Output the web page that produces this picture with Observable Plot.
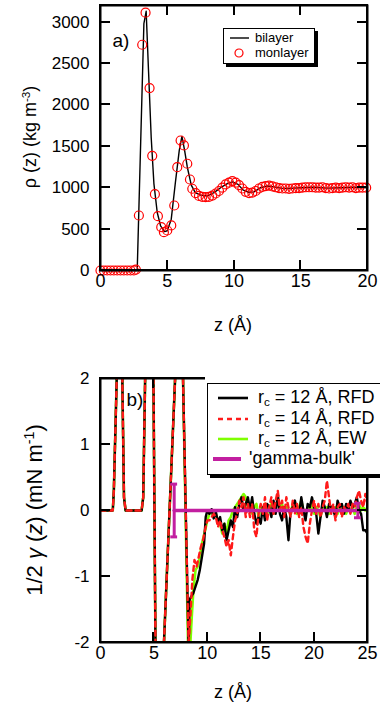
<!DOCTYPE html>
<html><head><meta charset="utf-8">
<script src="https://cdn.jsdelivr.net/npm/d3@7"></script>
<script src="https://cdn.jsdelivr.net/npm/@observablehq/plot@0.6"></script>
<style>
body{margin:0;background:#fff;font-family:"Liberation Sans",Arial,Helvetica,sans-serif;}
#root{position:relative;width:380px;height:706px;background:#fff;overflow:hidden;}
.panel{position:absolute;left:0;}
.title{position:absolute;white-space:nowrap;line-height:1;}
.legend{position:absolute;background:#fff;border:1.5px solid #000;box-shadow:3px 3px 0 #000;}
.cover{position:absolute;background:#fff;}
.fr{position:absolute;box-sizing:border-box;border:2px solid #000;pointer-events:none;}
.tk{position:absolute;background:#000;}
.row{position:absolute;white-space:nowrap;line-height:1;}
.row svg{position:absolute;overflow:visible;}
sup{font-size:0.65em;vertical-align:0.55em;line-height:0;}
sub{font-size:0.65em;vertical-align:-0.25em;line-height:0;}
</style></head>
<body><div id="root"></div>
<script>
// ---------- Panel a data ----------
const bilayerZ   = [0, 2.75, 3.25, 3.42, 3.6, 3.8, 4.0, 4.25, 4.5, 4.8, 5.0, 5.3, 5.6, 5.9, 6.1, 6.3, 6.5, 6.8, 7.1, 7.5, 8.0, 8.5, 9.0, 9.5, 9.9, 10.3, 10.7, 11.1, 11.5, 12.0, 12.5, 13.0, 13.5, 14.0, 14.5, 15.0, 16.0, 17.0, 18.0, 19.0, 20.0];
const bilayerRho = [0, 0, 2980, 3130, 2400, 1600, 1050, 700, 540, 470, 480, 620, 1050, 1450, 1620, 1450, 1250, 1030, 940, 910, 900, 940, 1000, 1050, 1070, 1040, 970, 945, 950, 1000, 1020, 1010, 995, 990, 995, 1000, 1005, 995, 1000, 1005, 1000];

const monoZ   = [0, 0.25, 0.5, 0.75, 1.0, 1.25, 1.5, 1.75, 2.0, 2.25, 2.5, 2.65, 2.875, 3.125, 3.375, 3.675, 3.875, 4.075, 4.3, 4.55, 4.75, 5.0, 5.3, 5.525, 5.75, 6.0, 6.25, 6.5, 6.7, 6.875, 7.125, 7.375, 7.625, 7.875, 8.125, 8.375, 8.625, 8.875, 9.125, 9.375, 9.625, 9.875, 10.125, 10.375, 10.625, 10.875, 11.125, 11.375, 11.625, 11.875, 12.125, 12.375, 12.625, 12.875, 13.125, 13.375, 13.625, 13.875, 14.125, 14.375, 14.625, 14.875, 15.125, 15.375, 15.625, 15.875, 16.125, 16.375, 16.625, 16.875, 17.125, 17.375, 17.625, 17.875, 18.125, 18.375, 18.625, 18.875, 19.125, 19.375, 19.625, 19.9];
const monoRho = [0, 0, 0, 0, 0, 0, 0, 0, 0, 0, 0, 10, 664, 2726, 3113, 2203, 1385, 922, 656, 523, 463, 483, 544, 785, 1248, 1570, 1510, 1289, 1099, 987, 934, 900, 890, 885, 890, 905, 930, 960, 1000, 1040, 1060, 1080, 1060, 1030, 990, 950, 935, 940, 960, 990, 1010, 1020, 1025, 1015, 1005, 995, 990, 990, 985, 990, 995, 995, 1000, 1005, 1005, 1005, 1000, 1000, 1005, 995, 990, 995, 1000, 995, 1000, 1005, 1000, 1005, 995, 1000, 1000, 1000];

const rhoTicks = [0, 500, 1000, 1500, 2000, 2500, 3000];
const zTicksA  = [0, 5, 10, 15, 20];

// ---------- Panel b data ----------
// shared near-wall part (all three profiles coincide)
const wallZ = [0, 1.15, 1.25, 1.55, 1.75, 1.9, 2.05, 2.2, 2.35, 3.85, 4.0, 4.2, 4.45, 4.7, 4.95, 5.15, 5.4, 5.7, 5.93, 7.0, 7.3, 7.5, 7.72];
const wallG = [0, 0, 0.3, 2.2, 8, 8, 1.9, 0.2, 0, 0, 0.2, 2.2, 10, 10, 2.2, -2.1, -10, -10, -2.05, 2.05, 10, 10, 2.05];

const rfd12Z = [8.25, 8.35, 8.5, 8.7, 8.9, 9.1, 9.3, 9.5, 9.7, 9.85, 10.0, 10.2, 10.4, 10.6, 10.8, 11.0, 11.2, 11.4, 11.6, 11.8, 12.0, 12.2, 12.4, 12.6, 12.8, 13.0, 13.2, 13.4, 13.6, 13.8, 14.0, 14.2, 14.4, 14.6, 14.8, 15.0, 15.2, 15.4, 15.6, 15.8, 16.0, 16.2, 16.4, 16.6, 16.8, 17.0, 17.2, 17.4, 17.6, 17.8, 18.0, 18.2, 18.4, 18.6, 18.8, 19.0, 19.2, 19.4, 19.6, 19.8, 20.0, 20.2, 20.4, 20.6, 20.8, 21.0, 21.2, 21.4, 21.6, 21.8, 22.0, 22.2, 22.4, 22.6, 22.8, 23.0, 23.2, 23.4, 23.6, 23.8, 24.0, 24.2, 24.4, 24.6, 24.8, 25.0];
const rfd12G = [-2.1, -1.35, -1.3, -1.25, -1.15, -1.05, -0.9, -0.7, -0.5, -0.1, 0.0, -0.05, 0.02, -0.12, -0.02, -0.18, -0.1, -0.3, -0.2, -0.45, -0.3, -0.15, -0.25, 0.05, -0.1, 0.1, 0.2, 0.0, 0.1, 0.2, 0.0, 0.2, -0.05, -0.2, -0.1, -0.2, 0.05, -0.15, 0.1, 0.05, -0.1, 0.15, -0.05, 0.25, -0.05, -0.15, 0.05, -0.1, -0.45, 0.0, 0.05, 0.15, 0.0, -0.05, 0.2, 0.0, -0.15, 0.1, 0.05, 0.2, 0.05, -0.05, -0.35, -0.1, 0.15, 0.05, -0.1, 0.1, 0.05, 0.0, -0.1, 0.15, 0.05, 0.1, -0.05, 0.1, 0.0, 0.15, 0.05, 0.1, 0.2, 0.0, -0.05, -0.3, -0.3, -0.35];

const rfd14Z = [8.25, 8.3, 8.45, 8.6, 8.8, 9.0, 9.2, 9.4, 9.6, 9.8, 10.0, 10.2, 10.4, 10.6, 10.8, 11.0, 11.2, 11.4, 11.6, 11.8, 12.0, 12.2, 12.4, 12.6, 12.8, 13.0, 13.2, 13.4, 13.6, 13.8, 14.0, 14.2, 14.4, 14.6, 14.8, 15.0, 15.2, 15.4, 15.6, 15.8, 16.0, 16.2, 16.4, 16.6, 16.8, 17.0, 17.2, 17.4, 17.6, 17.8, 18.0, 18.2, 18.4, 18.6, 18.8, 19.0, 19.2, 19.4, 19.6, 19.8, 20.0, 20.2, 20.4, 20.6, 20.8, 21.0, 21.2, 21.4, 21.6, 21.8, 22.0, 22.2, 22.4, 22.6, 22.8, 23.0, 23.2, 23.4, 23.6, 23.8, 24.0, 24.2, 24.4, 24.6, 24.8, 25.0];
const rfd14G = [-2.05, -1.9, -1.5, -1.05, -0.75, -0.85, -0.7, -0.55, -0.45, -0.28, -0.15, -0.15, -0.1, -0.05, -0.1, -0.25, -0.15, -0.3, -0.4, -0.55, -0.45, -0.68, -0.4, -0.15, -0.05, 0.15, 0.05, 0.2, -0.1, 0.1, -0.1, 0.1, -0.3, -0.4, -0.05, 0.1, -0.05, 0.2, -0.15, 0.05, 0.2, -0.05, 0.15, 0.3, 0.0, 0.15, -0.1, 0.2, 0.05, -0.1, 0.15, -0.05, 0.1, -0.1, 0.05, -0.25, -0.4, -0.5, -0.2, 0.0, 0.15, -0.05, 0.1, -0.1, 0.05, 0.15, 0.45, 0.2, -0.05, 0.1, -0.15, 0.05, 0.1, -0.1, 0.05, 0.0, 0.1, -0.05, 0.1, 0.05, 0.2, 0.3, 0.15, 0.05, 0.25, 0.1];

const ew12Z = [8.2, 8.4, 8.55, 8.7, 8.9, 9.1, 9.3, 9.5, 9.8, 10.0, 10.2, 10.4, 10.6, 10.8, 11.0, 11.2, 11.4, 11.6, 11.8, 12.0, 12.2, 12.4, 12.6, 12.8, 13.0, 13.2, 13.4, 13.6, 13.8, 14.0, 14.2, 14.4, 14.6, 14.8, 15.0, 15.2, 15.4, 15.6, 15.8, 16.0, 16.2, 16.4, 16.6, 16.8, 17.0, 17.2, 17.4, 17.6, 17.8, 18.0, 18.2, 18.4, 18.6, 18.8, 19.0, 19.2, 19.4, 19.6, 19.8, 20.0, 20.2, 20.4, 20.6, 20.8, 21.0, 21.2, 21.4, 21.6, 21.8, 22.0, 22.2, 22.4, 22.6, 22.8, 23.0, 23.2, 23.4, 23.6, 23.8, 24.0, 24.2, 24.4, 24.6, 24.8, 25.0];
const ew12G = [-2.05, -2.05, -1.6, -1.2, -0.9, -0.85, -0.7, -0.5, -0.3, -0.15, -0.05, 0.0, -0.1, -0.05, -0.15, -0.2, -0.35, -0.2, -0.35, -0.15, -0.1, 0.0, 0.05, 0.1, 0.15, 0.2, 0.25, 0.2, 0.05, 0.1, -0.05, 0.05, 0.1, -0.1, 0.05, 0.0, 0.1, -0.05, 0.05, 0.1, -0.05, 0.05, 0.15, 0.0, 0.1, -0.05, 0.05, 0.0, -0.05, 0.1, 0.05, -0.05, 0.05, 0.15, 0.0, -0.05, 0.05, 0.0, 0.1, -0.05, 0.05, 0.0, -0.1, 0.05, 0.0, 0.05, -0.05, 0.05, 0.0, 0.05, -0.05, 0.05, 0.0, 0.05, -0.05, 0.05, 0.0, 0.05, -0.05, 0.05, 0.1, 0.0, 0.05, 0.0, 0.05];

const bulkZ   = [6.9, 24.1];
const bulkG   = [0, 0];
const bulkErr = [0.4, 0.11];

const gTicks  = [-2, -1, 0, 1, 2];
const zTicksB = [0, 5, 10, 15, 20, 25];

// ---------- build ----------
const FONT = '"Liberation Sans", Arial, Helvetica, sans-serif';
const root = document.getElementById("root");
const rows = (zs, vs) => zs.map((z, i) => ({z, v: vs[i]}));
const fmt = d => String(d);
const TICK = 10;

function addBox(cls, left, top, w, h) {
  const d = document.createElement("div");
  d.className = cls;
  Object.assign(d.style, {left: left + "px", top: top + "px", width: w + "px", height: h + "px"});
  root.appendChild(d);
}

function panel(top, geom, xDomain, yDomain, xTicks, yTicks, marks) {
  const p = Plot.plot({
    width: 380, height: 353,
    marginLeft: 100, marginRight: 13, marginTop: geom.mt, marginBottom: geom.mb,
    style: {fontFamily: FONT, fontSize: "17px", background: "transparent"},
    x: {domain: xDomain, axis: null},
    y: {domain: yDomain, axis: null},
    marks: [
      ...marks,
      Plot.axisX({ticks: xTicks, tickSize: 0, tickPadding: 4, label: null, tickFormat: fmt, fontSize: 18}),
      Plot.axisY({ticks: yTicks, tickSize: 0, tickPadding: 11, label: null, tickFormat: fmt, fontSize: 17}),
      Plot.frame({stroke: "#000", strokeWidth: 2})
    ]
  });
  p.classList.add("panel");
  p.style.top = top + "px";
  root.appendChild(p);
  // frame box and inward ticks, placed from the plot's own scales
  const sx = p.scale("x"), sy = p.scale("y");
  const X = v => sx.apply(v), Y = v => top + sy.apply(v);
  const x0 = X(xDomain[0]), x1 = X(xDomain[1]), yb = Y(yDomain[0]), yt = Y(yDomain[1]);
  addBox("fr", x0 - 1, yt - 1, x1 - x0 + 2, yb - yt + 2);
  yTicks.forEach(v => {
    addBox("tk", x0, Y(v) - 1, TICK, 2);
    addBox("tk", x1 - TICK, Y(v) - 1, TICK, 2);
  });
  xTicks.forEach(v => {
    addBox("tk", X(v) - 1, yb - TICK, 2, TICK);
    addBox("tk", X(v) - 1, yt, 2, TICK);
  });
  return {X, Y};
}

// panel a
panel(0, {mt: 5, mb: 83}, [0, 20], [0, 3200], zTicksA, rhoTicks, [
  Plot.line(rows(bilayerZ, bilayerRho), {x: "z", y: "v", stroke: "#000", strokeWidth: 1.4}),
  Plot.dot(rows(monoZ, monoRho), {x: "z", y: "v", r: 4.5, stroke: "#ff0000", strokeWidth: 1.2, fill: "none"}),
  Plot.text(["a)"], {frameAnchor: "top-left", dx: 12, dy: 28, fontSize: 19, textAnchor: "start"})
]);

// panel b
const wall = rows(wallZ, wallG);
const rfd12 = wall.concat(rows(rfd12Z, rfd12G));
const rfd14 = wall.concat(rows(rfd14Z, rfd14G));
const ew12 = wall.concat(rows(ew12Z, ew12G));
const bulk = bulkZ.map((z, i) => ({z, v: bulkG[i], e: bulkErr[i]}));
const C_BLACK = "#000", C_RED = "#ff1a1a", C_GREEN = "#7fff00", C_MAG = "#c21fa0";

panel(353, {mt: 25, mb: 64}, [0, 25], [-2, 2], zTicksB, gTicks, [
  Plot.line(ew12, {x: "z", y: "v", stroke: C_GREEN, strokeWidth: 2.6, clip: true}),
  Plot.line(rfd12, {x: "z", y: "v", stroke: C_BLACK, strokeWidth: 2.4, clip: true}),
  Plot.line(rfd14, {x: "z", y: "v", stroke: C_RED, strokeWidth: 2.4, strokeDasharray: "5,4", clip: true}),
  Plot.line(bulk, {x: "z", y: "v", stroke: C_MAG, strokeWidth: 3.5}),
  Plot.ruleX(bulk, {x: "z", y1: d => d.v - d.e, y2: d => d.v + d.e, stroke: C_MAG, strokeWidth: 3}),
  Plot.ruleY(bulk, {y: d => d.v - d.e, x1: d => d.z - 0.32, x2: d => d.z + 0.32, stroke: C_MAG, strokeWidth: 3}),
  Plot.ruleY(bulk, {y: d => d.v + d.e, x1: d => d.z - 0.32, x2: d => d.z + 0.32, stroke: C_MAG, strokeWidth: 3}),
  Plot.text(["b)"], {frameAnchor: "top-left", dx: 26, dy: 14, fontSize: 19, textAnchor: "start"})
]);

// ---------- titles ----------
function addTitle(html, cx, cy, size, rotate) {
  const d = document.createElement("div");
  d.className = "title";
  d.innerHTML = html;
  d.style.left = cx + "px";
  d.style.top = cy + "px";
  d.style.fontSize = size + "px";
  d.style.transform = "translate(-50%,-50%)" + (rotate ? " rotate(-90deg)" : "");
  root.appendChild(d);
}
addTitle("ρ (z) (kg m<sup>-3</sup>)", 30, 137, 18, true);
addTitle("z (Å)", 233, 325, 18, false);
addTitle('1/2 <i>γ</i> (<i>z</i>) (mN m<sup>-1</sup>)', 35, 510, 22, true);
addTitle("z (Å)", 233, 692, 18, false);

// ---------- legends ----------
function legend(box, items, fontSize) {
  const L = document.createElement("div");
  L.className = "legend";
  Object.assign(L.style, {left: box.x + "px", top: box.y + "px", width: box.w + "px", height: box.h + "px"});
  items.forEach(it => {
    const r = document.createElement("div");
    r.className = "row";
    r.style.left = "0px";
    r.style.top = it.y + "px";
    r.style.fontSize = fontSize + "px";
    const s = document.createElementNS("http://www.w3.org/2000/svg", "svg");
    s.setAttribute("width", 1); s.setAttribute("height", 1);
    s.style.left = "0px"; s.style.top = "0px";
    s.innerHTML = it.swatch;
    r.appendChild(s);
    const t = document.createElement("span");
    t.innerHTML = it.label;
    t.style.position = "absolute";
    t.style.left = it.tx + "px";
    t.style.top = (-fontSize * 0.55) + "px";
    r.appendChild(t);
    L.appendChild(r);
  });
  root.appendChild(L);
}
legend({x: 223, y: 28, w: 90, h: 34}, [
  {y: 9, tx: 31, label: "bilayer", swatch: `<line x1="6" x2="25" y1="0" y2="0" stroke="#000" stroke-width="1.4"/>`},
  {y: 24, tx: 31, label: "monlayer", swatch: `<circle cx="15" cy="0" r="4" fill="none" stroke="#ff0000" stroke-width="1.2"/>`}
], 13);

addBox("cover", 205, 371, 175, 20);

legend({x: 207, y: 383, w: 180, h: 90}, [
  {y: 14, tx: 50, label: "r<sub>c</sub> = 12 Å, RFD", swatch: `<line x1="10" x2="40" y1="0" y2="0" stroke="${C_BLACK}" stroke-width="2.6"/>`},
  {y: 35, tx: 50, label: "r<sub>c</sub> = 14 Å, RFD", swatch: `<line x1="10" x2="40" y1="0" y2="0" stroke="${C_RED}" stroke-width="2.6" stroke-dasharray="5,4"/>`},
  {y: 55, tx: 50, label: "r<sub>c</sub> = 12 Å, EW", swatch: `<line x1="10" x2="40" y1="0" y2="0" stroke="${C_GREEN}" stroke-width="2.6"/>`},
  {y: 75, tx: 41, label: "'gamma-bulk'", swatch: `<line x1="5" x2="33" y1="0" y2="0" stroke="${C_MAG}" stroke-width="4"/>`}
], 18);
</script>
</body></html>
